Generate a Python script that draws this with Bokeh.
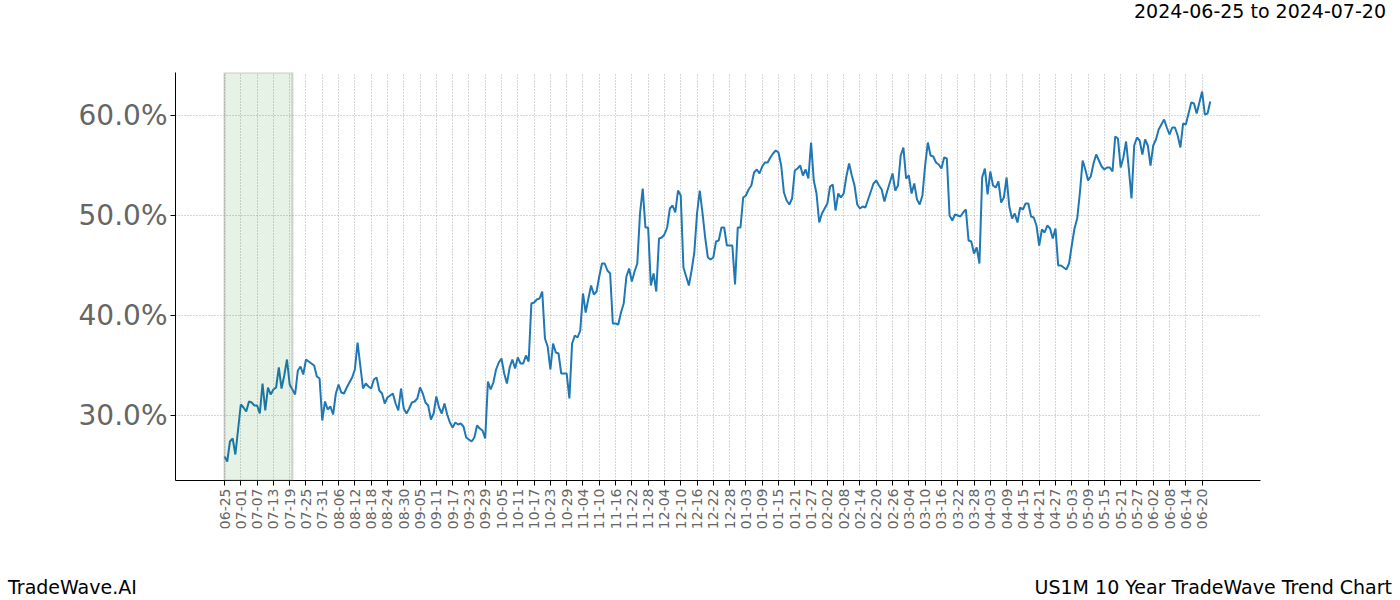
import math
import pandas as pd
from bokeh.plotting import figure
from bokeh.layouts import column
from bokeh.models import Range1d, FixedTicker, PrintfTickFormatter, BoxAnnotation, ColumnDataSource, Div
from bokeh.embed import file_html
from bokeh.resources import INLINE

start_date = "2024-06-25"
highlight_start = "2024-06-25"
highlight_end = "2024-07-20"
header_text = "2024-06-25 to 2024-07-20"
footer_left = "TradeWave.AI"
footer_right = "US1M 10 Year TradeWave Trend Chart"

trend_pct = [
    25.9, 25.4, 27.4, 27.7, 26.1, 28.6, 31.1, 30.8, 30.4, 31.4,
    31.3, 31.0, 31.0, 30.2, 33.2, 30.5, 32.8, 32.1, 32.6, 32.8,
    34.8, 32.7, 34.0, 35.6, 33.1, 32.6, 32.1, 34.5, 34.9, 34.1,
    35.6, 35.4, 35.2, 35.0, 33.9, 33.7, 29.5, 31.4, 30.6, 30.9,
    30.1, 32.2, 33.1, 32.3, 32.2,
    32.8, 33.3, 33.8, 34.6, 37.3, 35.0, 32.7, 33.2, 32.9, 32.7,
    33.6, 33.8, 32.5, 32.2, 31.2, 31.8, 32.0, 32.2, 31.2, 30.5,
    32.7, 30.7, 30.2, 30.7, 31.3, 31.4, 31.7, 32.8, 32.2, 31.3,
    31.0, 29.6, 30.2, 31.9, 30.8, 30.2, 31.2, 30.1, 29.3, 28.8,
    29.3, 29.1, 29.2, 28.9, 27.8, 27.6,
    27.4, 27.8, 29.0, 28.7, 28.5, 27.7, 33.4, 32.6, 33.3, 34.6,
    35.3, 35.7, 34.2, 33.2, 34.8, 35.6, 34.7, 35.8, 35.2, 35.2,
    36.0, 35.4, 41.2, 41.3, 41.6, 41.7, 42.4, 37.7, 36.9, 34.6,
    37.2, 36.3, 36.2, 34.2, 34.2, 34.2, 31.7, 37.2, 38.0, 37.8,
    38.5, 42.2, 40.3, 41.7, 43.0, 42.1,
    42.4, 43.9, 45.2, 45.2, 44.5, 44.2, 39.2, 39.2, 39.1, 40.3,
    41.2, 43.9, 44.7, 43.4, 44.4, 45.2, 50.2, 52.7, 48.8, 48.8,
    43.0, 44.2, 42.4, 47.7, 47.8, 48.1, 48.8, 50.7, 51.0, 50.3,
    52.5, 52.0, 44.8, 43.9, 43.0, 44.5, 46.3, 50.2, 52.5, 50.3,
    47.8, 45.8, 45.6, 45.8, 47.4, 47.5, 48.8,
    48.8, 47.0, 47.0, 47.0, 43.1, 48.8, 48.8, 51.8, 52.0, 52.6,
    53.0, 54.3, 54.6, 54.2, 54.9, 55.3, 55.3, 55.8, 56.2, 56.5,
    56.3, 55.0, 52.3, 51.5, 51.1, 51.7, 54.5, 54.7, 55.0, 54.0,
    54.6, 53.7, 57.3, 53.5, 52.2, 49.3, 50.2, 50.7, 51.2, 52.9,
    53.1, 50.5, 52.2, 51.8, 52.2,
    53.9, 55.2, 54.0, 53.0, 51.1, 50.7, 50.9, 50.8, 51.6, 52.4,
    53.2, 53.5, 53.0, 52.6, 51.4, 52.4, 53.3, 54.2, 52.5, 53.0,
    56.0, 56.8, 53.7, 54.0, 52.2, 53.2, 51.6, 51.1, 52.0, 55.0,
    57.3, 56.0, 55.9, 55.3, 55.1, 54.7, 55.8, 55.7, 50.0, 49.5,
    50.1, 50.0, 49.9, 50.3, 50.6, 47.5,
    47.4, 46.2, 46.8, 45.2, 53.8, 54.7, 52.1, 54.4, 53.0, 52.8,
    53.4, 51.3, 51.8, 53.8, 50.9, 49.7, 50.2, 49.3, 50.8, 50.6,
    51.2, 51.2, 49.9, 49.8, 49.0, 47.0, 48.6, 48.3, 49.0, 48.7,
    47.7, 48.7, 45.0, 45.0, 44.8, 44.6, 45.2, 47.0, 48.7, 49.7,
    52.3, 55.5, 54.6, 53.5, 53.9, 55.2,
    56.1, 55.5, 54.9, 54.6, 54.8, 54.8, 54.4, 57.9, 57.7, 54.8,
    55.8, 57.4, 54.7, 51.7, 57.0, 57.8, 57.5, 56.1, 57.6, 57.0,
    55.0, 57.0, 57.6, 58.6, 59.1, 59.6, 58.8, 58.1, 58.8, 58.8,
    58.0, 56.8, 59.2, 59.1, 60.2, 61.3, 61.2, 60.2, 61.3, 62.4,
    60.1, 60.2, 61.4,
]

y_ticks = [30, 40, 50, 60]
tick_step = 6

dates = pd.date_range(start_date, periods=len(trend_pct), freq="D")
idx = list(range(len(trend_pct)))
tick_idx = list(range(0, len(trend_pct), tick_step))
tick_labels = {i: dates[i].strftime("%m-%d") for i in tick_idx}
hl_start = int((pd.Timestamp(highlight_start) - dates[0]).days)
hl_end = int((pd.Timestamp(highlight_end) - dates[0]).days)

src = ColumnDataSource(data=dict(x=idx, y=trend_pct))

FONT = "DejaVu Sans"
W = 1400
HEAD_H = 40
FOOT_H = 40
MAIN_H = 600 - HEAD_H - FOOT_H

base_style = ("position:relative;width:%dpx;height:%dpx;font-family:'DejaVu Sans';"
              "font-size:19px;line-height:22px;color:black;overflow:visible;white-space:nowrap;")
span_style = "position:absolute;top:%dpx;%s:%dpx;"

header = Div(width=W, height=HEAD_H, margin=0, text=(
    '<div style="%s"><span style="%s">%s</span></div>'
    % (base_style % (W, HEAD_H), span_style % (0, "right", 14), header_text)))
footer = Div(width=W, height=FOOT_H, margin=0, text=(
    '<div style="%s"><span style="%s">%s</span><span style="%s">%s</span></div>'
    % (base_style % (W, FOOT_H), span_style % (16, "left", 8), footer_left,
       span_style % (16, "right", 8), footer_right)))

p = figure(width=W, height=MAIN_H, output_backend="svg", toolbar_location=None,
           x_range=Range1d(-18.05, 381.5), y_range=Range1d(23.5, 64.3),
           min_border_left=175, min_border_right=140, min_border_top=72 - HEAD_H,
           min_border_bottom=(HEAD_H + MAIN_H) - 480, title=None, margin=0)
p.outline_line_color = None
p.background_fill_color = "white"
p.border_fill_color = "white"

p.add_layout(BoxAnnotation(left=hl_start, right=hl_end, fill_color="green", fill_alpha=0.1,
                           line_color="#888888", line_alpha=0.35, line_width=2))

p.line("x", "y", source=src, line_color="#1f77b4", line_width=2)

p.xaxis.ticker = FixedTicker(ticks=tick_idx)
p.xaxis.major_label_overrides = tick_labels
p.xaxis.major_label_orientation = math.pi / 2
p.xaxis.major_label_text_font_size = "14px"
p.xaxis.major_label_text_color = "#666666"
p.yaxis.ticker = FixedTicker(ticks=y_ticks)
p.yaxis.formatter = PrintfTickFormatter(format="%.1f%%")
p.yaxis.major_label_text_font_size = "28px"
p.yaxis.major_label_text_color = "#666666"
for ax in (p.xaxis, p.yaxis):
    ax.major_label_text_font = FONT
    ax.axis_line_color = "black"
    ax.axis_line_width = 1
    ax.major_tick_line_color = "black"
    ax.major_tick_out = 5
    ax.major_tick_in = 0
    ax.minor_tick_line_color = None
    ax.major_label_standoff = 3

for g in (p.xgrid, p.ygrid):
    g.grid_line_color = "#999999"
    g.grid_line_dash = "1 2"
    g.grid_line_width = 0.8

layout = column(header, p, footer, spacing=0, margin=0)

open("out.html", "w").write(file_html(layout, INLINE))
